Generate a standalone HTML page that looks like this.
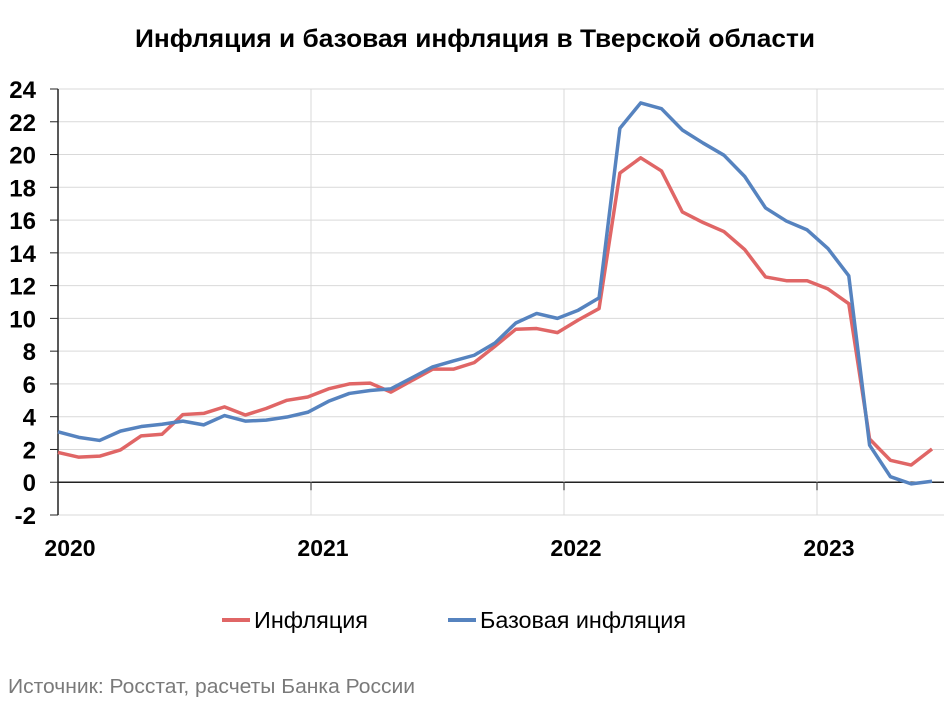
<!DOCTYPE html>
<html><head><meta charset="utf-8"><style>
body{margin:0;background:#fff;width:950px;height:712px;overflow:hidden}
svg{display:block;font-family:"Liberation Sans","DejaVu Sans",sans-serif}
</style></head><body>
<svg id="chart" width="950" height="712">
<text x="475" y="47" text-anchor="middle" font-size="25" font-weight="bold" textLength="680" lengthAdjust="spacingAndGlyphs">Инфляция и базовая инфляция в Тверской области</text>
<g id="grid"></g><g id="axes"></g><g id="series"></g>
<g>
<line x1="222" y1="620" x2="250" y2="620" stroke="#e06666" stroke-width="4"/>
<text x="254" y="628" font-size="23" textLength="114" lengthAdjust="spacingAndGlyphs">Инфляция</text>
<line x1="448" y1="620" x2="476" y2="620" stroke="#5683bf" stroke-width="4"/>
<text x="480" y="628" font-size="23" textLength="206" lengthAdjust="spacingAndGlyphs">Базовая инфляция</text>
</g>
<text x="8" y="693" font-size="20" fill="#7a7a7a" textLength="407" lengthAdjust="spacingAndGlyphs">Источник: Росстат, расчеты Банка России</text>
</svg>
<script>
const yTicks=[24,22,20,18,16,14,12,10,8,6,4,2,0,-2];
const years=["2020","2021","2022","2023"];
const inflation=[1.82,1.53,1.59,1.97,2.83,2.93,4.13,4.2,4.6,4.1,4.5,5.0,5.2,5.7,6.0,6.05,5.5,6.2,6.9,6.9,7.3,8.3,9.34,9.38,9.13,9.9,10.6,18.87,19.8,19.0,16.5,15.85,15.3,14.2,12.53,12.3,12.3,11.8,10.9,2.64,1.34,1.05,2.03];
const core=[3.08,2.74,2.55,3.12,3.4,3.54,3.73,3.5,4.07,3.73,3.79,3.98,4.27,4.94,5.42,5.6,5.7,6.37,7.04,7.4,7.75,8.5,9.72,10.3,10.0,10.5,11.25,21.6,23.15,22.8,21.5,20.7,19.96,18.66,16.74,15.94,15.4,14.26,12.6,2.26,0.34,-0.1,0.06];
const NS="http://www.w3.org/2000/svg";
const X0=58,X1=944,YT=89,YB=515,VMAX=24,VMIN=-2;
const xStep=20.81;
function xPos(i){return X0+i*xStep;}
function yPos(v){return YT+(VMAX-v)*(YB-YT)/(VMAX-VMIN);}
function yearX(k){return X0+k*253;}
function mk(t,parent,attrs){const e=document.createElementNS(NS,t);for(const k in attrs)e.setAttribute(k,attrs[k]);parent.appendChild(e);return e;}
const grid=document.getElementById('grid'),axes=document.getElementById('axes'),ser=document.getElementById('series');
yTicks.forEach(v=>{
 const l=mk('line',grid,{x1:X0,x2:X1,y1:yPos(v),y2:yPos(v),stroke:v===0?'#222':'#d9d9d9','stroke-width':v===0?1.5:1});
 
 
 const tk=mk('line',axes,{x1:X0-8,x2:X0,y1:yPos(v),y2:yPos(v),stroke:'#222'});
 
 
 const t=mk('text',axes,{x:36,y:yPos(v)+9,'text-anchor':'end','font-size':24,'font-weight':'bold'});
 t.textContent=v;
 
 
});
years.forEach((y,k)=>{
 const x=yearX(k);
 if(k>0){const g=mk('line',grid,{x1:x,x2:x,y1:YT,y2:YB,stroke:'#d9d9d9'});
 
 
 const tk=mk('line',axes,{x1:x,x2:x,y1:yPos(0),y2:yPos(0)+8,stroke:'#222'});
 
 }
 const t=mk('text',axes,{x:x+12,y:556,'font-size':23,'font-weight':'bold','text-anchor':'middle'});
 t.textContent=y;
 
 
});
const ax=mk('line',axes,{x1:X0,x2:X0,y1:YT,y2:YB,stroke:'#222','stroke-width':1.5});


function line(arr,color,name){
 const p=mk('polyline',ser,{points:arr.map((v,i)=>xPos(i)+','+yPos(v)).join(' '),fill:'none',stroke:color,'stroke-width':3.5,'stroke-linejoin':'round'});
 
 
}
line(inflation,'#e06666','inflation-line');
line(core,'#5683bf','core-inflation-line');
</script>
</body></html>
